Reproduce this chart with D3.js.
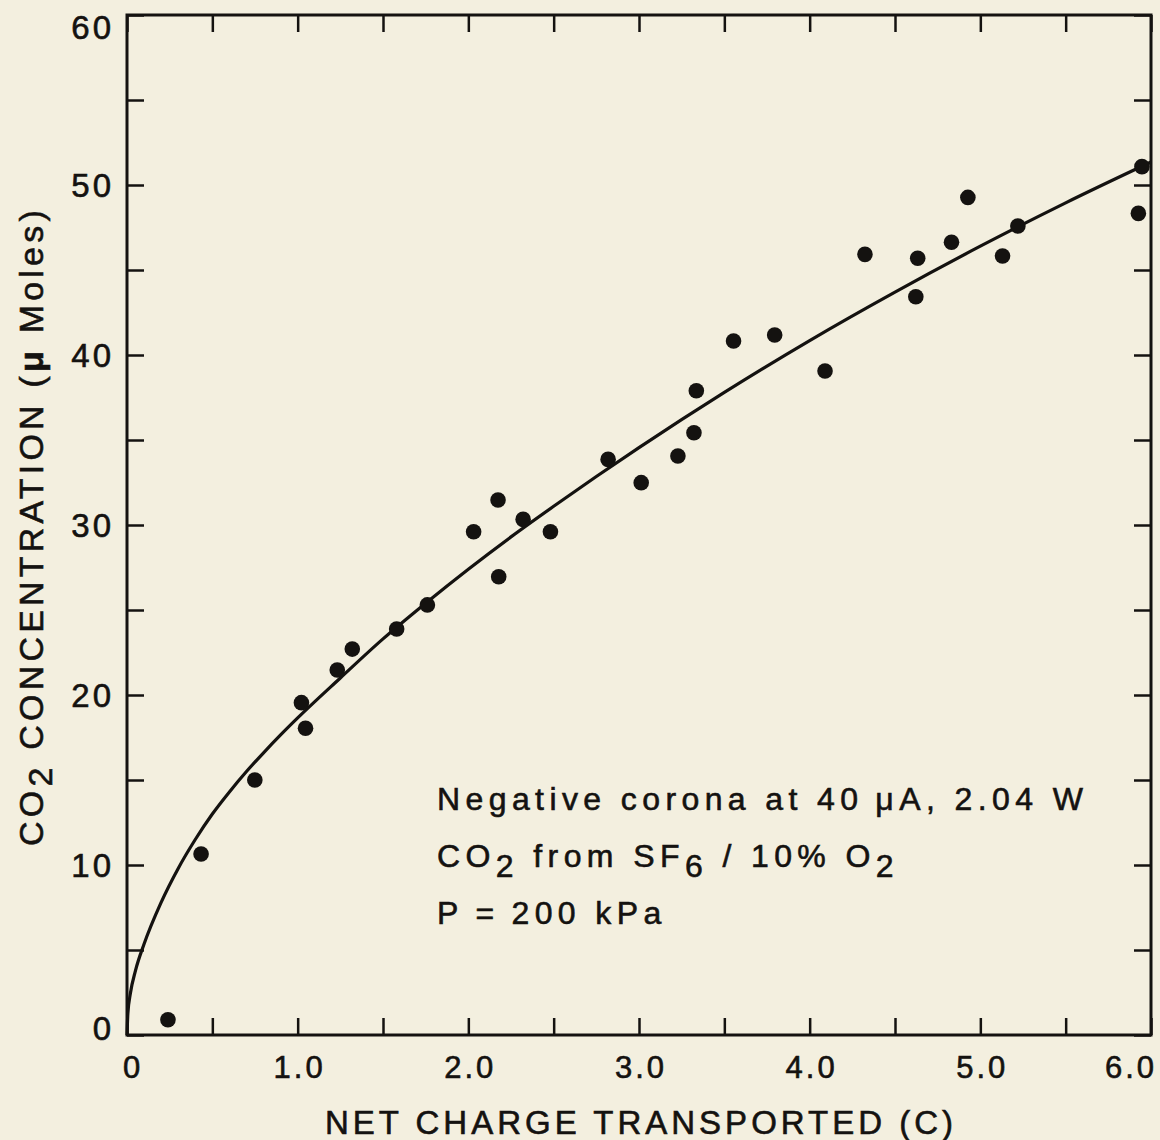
<!DOCTYPE html>
<html>
<head>
<meta charset="utf-8">
<script src="https://cdn.jsdelivr.net/npm/d3@7"></script>
<style>
  html, body { margin: 0; padding: 0; background: #f3efdf; }
  #chart { width: 1160px; height: 1140px; }
  text { font-family: "Liberation Sans", Arial, Helvetica, sans-serif; fill: #141210;
         stroke: #141210; stroke-width: 0.6px; }
</style>
</head>
<body>
<div id="chart"></div>
<script>
// measured points: net charge (C) vs CO2 (micro moles)
const charge = [0.24, 0.434, 0.749, 1.022, 1.046, 1.232, 1.32, 1.58, 1.76,
  2.031, 2.174, 2.178, 2.321, 2.481, 2.819, 3.013, 3.228, 3.322, 3.336,
  3.554, 3.795, 4.09, 4.324, 4.622, 4.633, 4.831, 4.927, 5.13, 5.22, 5.926, 5.947];
const co2 = [0.9, 10.65, 15.0, 19.55, 18.04, 21.47, 22.7, 23.88, 25.3,
  29.6, 31.47, 26.96, 30.33, 29.6, 33.86, 32.49, 34.06, 35.43, 37.9,
  40.82, 41.18, 39.06, 45.92, 43.43, 45.69, 46.63, 49.27, 45.82, 47.59, 48.33, 51.08];

// fitted curve
const fitX = [0, 0.005, 0.02, 0.05, 0.1, 0.2, 0.3, 0.4, 0.5, 0.6, 0.7, 0.8, 0.9, 1.0,
  1.25, 1.5, 1.75, 2.0, 2.25, 2.5, 2.75, 3.0, 3.5, 4.0, 4.5, 5.0, 5.5, 6.0];
const fitY = [0, 1.25, 2.45, 3.8, 5.35, 7.8, 9.8, 11.5, 13.0, 14.3, 15.5, 16.6, 17.65, 18.65,
  21.0, 23.3, 25.4, 27.4, 29.3, 31.1, 32.85, 34.55, 37.8, 40.85, 43.7, 46.4, 48.95, 51.35];

const xTicks = [0, 0.5, 1, 1.5, 2, 2.5, 3, 3.5, 4, 4.5, 5, 5.5, 6];
const xLabels = ["0", "", "1.0", "", "2.0", "", "3.0", "", "4.0", "", "5.0", "", "6.0"];
const yTicks = [0, 5, 10, 15, 20, 25, 30, 35, 40, 45, 50, 55, 60];
const yLabels = ["0", "", "10", "", "20", "", "30", "", "40", "", "50", "", "60"];

const w = 1160, h = 1140;
const pLeft = 127, pRight = 1151, pTop = 15, pBottom = 1035;
const tickLen = 17;

const x = d3.scaleLinear().domain([0, 6]).range([pLeft, pRight]);
const y = d3.scaleLinear().domain([0, 60]).range([pBottom, pTop]);

const svg = d3.select("#chart").append("svg")
  .attr("width", w)
  .attr("height", h);

svg.append("rect")
  .attr("width", w).attr("height", h)
  .attr("fill", "#f3efdf");

// inward ticks on all four sides
const axisStyle = g => {
  g.select(".domain").remove();
  g.selectAll(".tick line").attr("stroke", "#141210").attr("stroke-width", 2.5);
  g.selectAll(".tick text").remove();
};
svg.append("g").attr("transform", `translate(0,${pBottom})`)
  .call(d3.axisBottom(x).tickValues(xTicks).tickSize(-tickLen)).call(axisStyle);
svg.append("g").attr("transform", `translate(0,${pTop})`)
  .call(d3.axisTop(x).tickValues(xTicks).tickSize(-tickLen)).call(axisStyle);
svg.append("g").attr("transform", `translate(${pLeft},0)`)
  .call(d3.axisLeft(y).tickValues(yTicks).tickSize(-tickLen)).call(axisStyle);
svg.append("g").attr("transform", `translate(${pRight},0)`)
  .call(d3.axisRight(y).tickValues(yTicks).tickSize(-tickLen)).call(axisStyle);

// frame
svg.append("rect")
  .attr("x", pLeft).attr("y", pTop)
  .attr("width", pRight - pLeft).attr("height", pBottom - pTop)
  .attr("fill", "none")
  .attr("stroke", "#141210")
  .attr("stroke-width", 3);

// tick labels
const xShift = v => v === 0 ? 6 : (v === 6 ? -20 : 2);
svg.selectAll(".xlab")
  .data(xTicks.filter((d, i) => xLabels[i] !== ""))
  .enter().append("text")
  .attr("class", "xlab")
  .attr("x", d => x(d) + xShift(d))
  .attr("y", 1078)
  .attr("text-anchor", "middle")
  .attr("font-size", 31)
  .attr("letter-spacing", 3)
  .text(d => xLabels[xTicks.indexOf(d)]);

const yShift = v => v === 60 ? 12 : (v === 0 ? -7 : 0);
svg.selectAll(".ylab")
  .data(yTicks.filter((d, i) => yLabels[i] !== ""))
  .enter().append("text")
  .attr("class", "ylab")
  .attr("x", 114)
  .attr("y", d => y(d) + yShift(d) + 12)
  .attr("text-anchor", "end")
  .attr("font-size", 33)
  .attr("letter-spacing", 3)
  .text(d => yLabels[yTicks.indexOf(d)]);

// axis titles
svg.append("text")
  .attr("x", (pLeft + pRight) / 2 + 2)
  .attr("y", 1134)
  .attr("text-anchor", "middle")
  .attr("font-size", 33)
  .attr("letter-spacing", 4)
  .text("NET CHARGE TRANSPORTED (C)");

const yTitle = svg.append("text")
  .attr("transform", "translate(43,526) rotate(-90)")
  .attr("text-anchor", "middle")
  .attr("font-size", 34)
  .attr("letter-spacing", 4.2);
yTitle.append("tspan").text("CO");
yTitle.append("tspan").attr("dy", 9).text("2");
yTitle.append("tspan").attr("dy", -9).text(" CONCENTRATION (");
yTitle.append("tspan").attr("font-weight", "bold").text("\u03bc");
yTitle.append("tspan").text(" Moles)");

// fitted curve
const fit = fitX.map((d, i) => [d, fitY[i]]);
svg.append("path")
  .datum(fit)
  .attr("fill", "none")
  .attr("stroke", "#141210")
  .attr("stroke-width", 3.2)
  .attr("d", d3.line().x(d => x(d[0])).y(d => y(d[1])).curve(d3.curveMonotoneX));

// data points
svg.selectAll(".pt")
  .data(charge.map((d, i) => [d, co2[i]]))
  .enter().append("circle")
  .attr("class", "pt")
  .attr("cx", d => x(d[0]))
  .attr("cy", d => y(d[1]))
  .attr("r", 7.8)
  .attr("fill", "#141210");

// annotation
const note = svg.append("g").attr("font-size", 32).attr("letter-spacing", 5.4);
note.append("text").attr("x", 437).attr("y", 810)
  .text("Negative corona at 40\u2009\u03bcA, 2.04 W");
const l2 = note.append("text").attr("x", 437).attr("y", 867);
l2.append("tspan").text("CO");
l2.append("tspan").attr("dy", 10).text("2");
l2.append("tspan").attr("dy", -10).text(" from SF");
l2.append("tspan").attr("dy", 10).text("6");
l2.append("tspan").attr("dy", -10).text(" / 10% O");
l2.append("tspan").attr("dy", 10).text("2");
note.append("text").attr("x", 437).attr("y", 924)
  .text("P\u2009=\u2009200 kPa");
</script>
</body>
</html>
